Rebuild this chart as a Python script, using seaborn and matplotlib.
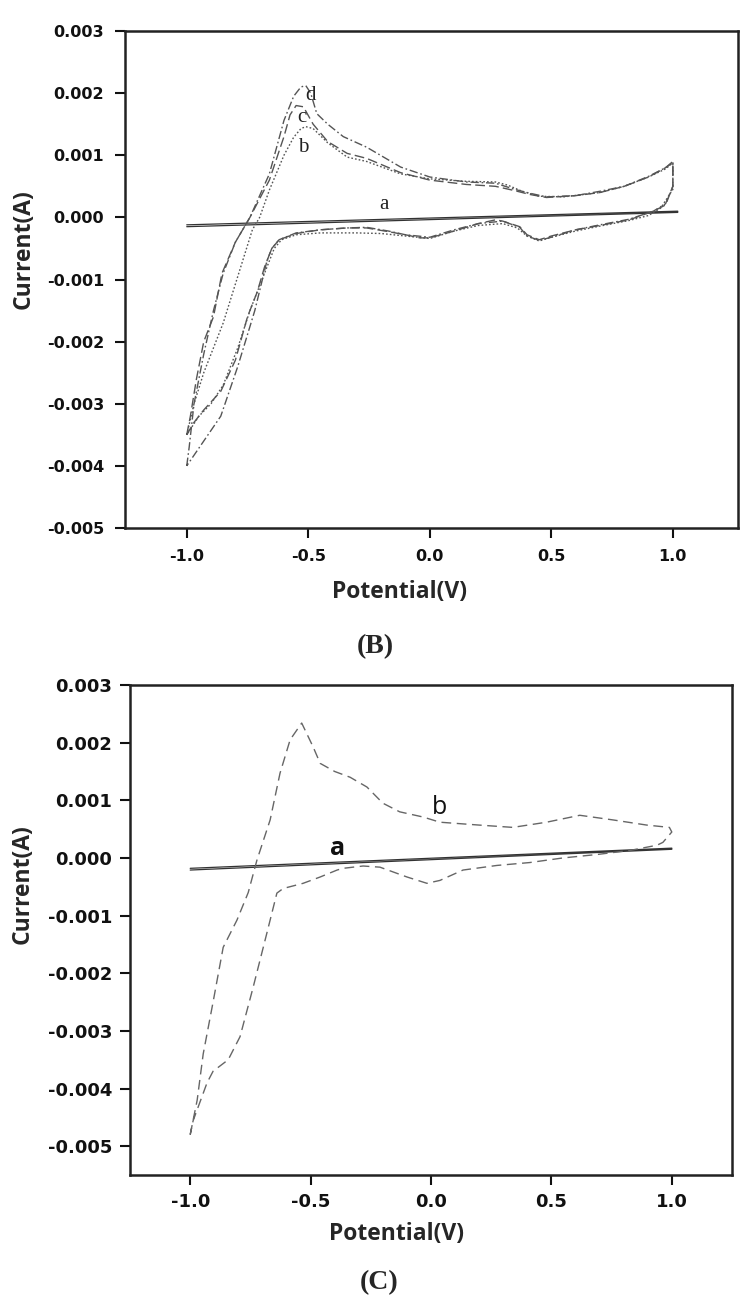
import matplotlib
matplotlib.use('Agg')
import matplotlib.pyplot as plt
import numpy as np
import pandas as pd
import seaborn as sns

# ---- panel B : four cyclic voltammograms ----
b_a_x = [-1.0, 1.02, 1.02, -1.0]
b_a_y = [-0.00012, 0.0001, 0.00008, -0.00015]

b_b_x = [-1.0, -0.97, -0.93, -0.89, -0.85, -0.81, -0.77, -0.73, -0.70, -0.66, -0.60, -0.56, -0.53,
         -0.51, -0.48, -0.42, -0.34, -0.26, -0.12, 0.0, 0.15, 0.27, 0.32, 0.38, 0.45, 0.55, 0.7,
         0.8, 0.9, 0.97, 1.0,
         1.0, 0.95, 0.9, 0.82, 0.7, 0.6, 0.5, 0.45, 0.40, 0.36, 0.3, 0.2, 0.1, 0.0, -0.1, -0.2,
         -0.3, -0.45, -0.55, -0.61, -0.64, -0.67, -0.70, -0.74, -0.79, -0.85, -0.9, -0.95, -1.0]
b_b_y = [-0.0035, -0.003, -0.0025, -0.0021, -0.0017, -0.0012, -0.0007, -0.0002, 0.0, 0.00044,
         0.0010, 0.00129, 0.00143, 0.00146, 0.00143, 0.0012, 0.00097, 0.0009, 0.0007, 0.00062,
         0.00058, 0.00057, 0.00052, 0.00042, 0.00034, 0.00033, 0.0004, 0.0005, 0.00065, 0.00078,
         0.00088,
         0.00045, 0.00015, 0.00003, -0.00005, -0.00014, -0.00022, -0.00032, -0.00038, -0.0003,
         -0.00017, -0.0001, -0.00013, -0.00022, -0.00034, -0.0003, -0.00026, -0.00025, -0.00025,
         -0.00028, -0.00036, -0.0005, -0.0008, -0.0011, -0.0015, -0.0021, -0.0027, -0.003,
         -0.0032, -0.0035]

b_c_x = [-1.0, -0.985, -0.96, -0.93, -0.89, -0.855, -0.80, -0.74, -0.66, -0.6, -0.575, -0.55,
         -0.52, -0.48, -0.42, -0.34, -0.26, -0.12, 0.0, 0.15, 0.27, 0.35, 0.41, 0.48, 0.6, 0.7,
         0.8, 0.9, 0.97, 1.0,
         1.0, 0.97, 0.92, 0.82, 0.7, 0.6, 0.5, 0.45, 0.40, 0.37, 0.3, 0.27, 0.2, 0.1, 0.0, -0.04,
         -0.1, -0.17, -0.26, -0.34, -0.45, -0.55, -0.62, -0.65, -0.68, -0.71, -0.75, -0.80, -0.86,
         -0.93, -0.97, -1.0]
b_c_y = [-0.0035, -0.0032, -0.0026, -0.0020, -0.0016, -0.0009, -0.0004, 0.0, 0.0006, 0.0013,
         0.00165, 0.0018, 0.00178, 0.0015, 0.00122, 0.00103, 0.00095, 0.00072, 0.0006, 0.00053,
         0.0005, 0.00043, 0.00037, 0.00032, 0.00035, 0.0004, 0.0005, 0.00065, 0.0008, 0.00088,
         0.0005, 0.0002, 0.0001, -0.00004, -0.00013, -0.0002, -0.0003, -0.00036, -0.00028,
         -0.00015, -0.00006, -0.00004, -0.0001, -0.00022, -0.00033, -0.00033, -0.00028, -0.00023,
         -0.00017, -0.00017, -0.0002, -0.00026, -0.00036, -0.0005, -0.0008, -0.0012, -0.0016,
         -0.0023, -0.0028, -0.0031, -0.0033, -0.0035]

b_d_x = [-1.0, -0.99, -0.97, -0.93, -0.89, -0.85, -0.80, -0.74, -0.66, -0.6, -0.56, -0.53, -0.51,
         -0.49, -0.465, -0.42, -0.356, -0.26, -0.12, 0.0, 0.15, 0.27, 0.35, 0.41, 0.48, 0.6, 0.7,
         0.8, 0.9, 0.97, 1.0,
         1.0, 0.97, 0.92, 0.82, 0.7, 0.6, 0.5, 0.45, 0.4, 0.37, 0.3, 0.2, 0.1, 0.0, -0.1, -0.17,
         -0.26, -0.34, -0.45, -0.55, -0.62, -0.65, -0.67, -0.72, -0.79, -0.86, -0.93, -1.0]
b_d_y = [-0.004, -0.0037, -0.003, -0.0022, -0.0015, -0.0009, -0.0004, 0.0, 0.0007, 0.00156,
         0.00195, 0.0021, 0.00212, 0.002, 0.00167, 0.0015, 0.0013, 0.00113, 0.00081, 0.00065,
         0.00057, 0.00055, 0.00045, 0.00039, 0.00033, 0.00035, 0.00042, 0.0005, 0.00066, 0.0008,
         0.0009,
         0.0005, 0.00022, 0.0001, -0.00003, -0.00012, -0.0002, -0.00032, -0.00037, -0.0003,
         -0.00016, -0.00006, -0.0001, -0.0002, -0.00032, -0.00028, -0.00022, -0.00016, -0.00017,
         -0.0002, -0.00025, -0.00036, -0.0005, -0.0007, -0.0015, -0.0024, -0.0032, -0.0036, -0.004]

b_labels = ['a', 'b', 'c', 'd']
b_label_x = [-0.19, -0.52, -0.526, -0.49]
b_label_y = [0.0002, 0.00113, 0.0016, 0.00196]

# ---- panel C : two cyclic voltammograms ----
c_a_x = [-1.0, 1.0, 1.0, -1.0]
c_a_y = [-0.00018, 0.00017, 0.00015, -0.00021]

c_b_x = [-1.0, -0.971, -0.946, -0.905, -0.863, -0.806, -0.759, -0.723, -0.668, -0.627, -0.585,
         -0.537, -0.49, -0.46, -0.40, -0.336, -0.266, -0.2, -0.13, -0.033, 0.037, 0.2, 0.34,
         0.48, 0.618, 0.755, 0.896, 0.99,
         1.0, 0.963, 0.938, 0.826, 0.69, 0.548, 0.41, 0.274, 0.133, 0.037, -0.017, -0.10, -0.212,
         -0.282, -0.365, -0.39, -0.46, -0.531, -0.614, -0.64, -0.682, -0.739, -0.793, -0.842,
         -0.905, -0.93, -0.988, -1.0]
c_b_y = [-0.0048, -0.0042, -0.0034, -0.0025, -0.00155, -0.00108, -0.0006, -0.00004, 0.00066,
         0.00147, 0.00205, 0.00234, 0.00193, 0.00164, 0.0015, 0.0014, 0.00123, 0.00095, 0.0008,
         0.00071, 0.00062, 0.00057, 0.00053, 0.00062, 0.00074, 0.00066, 0.00057, 0.00053,
         0.00045, 0.00027, 0.00022, 0.00013, 0.00006, 0.0, -0.00008, -0.00013, -0.00021,
         -0.00039, -0.00044, -0.00033, -0.00016, -0.00014, -0.00018, -0.00021, -0.00033,
         -0.00044, -0.00053, -0.00061, -0.00131, -0.00225, -0.0031, -0.0035, -0.0037, -0.0039,
         -0.00456, -0.0048]

c_labels = ['a', 'b']
c_label_x = [-0.39, 0.037]
c_label_y = [0.00017, 0.00087]

x_ticks = [-1.0, -0.5, 0.0, 0.5, 1.0]
b_y_ticks = [-0.005, -0.004, -0.003, -0.002, -0.001, 0.0, 0.001, 0.002, 0.003]
c_y_ticks = [-0.005, -0.004, -0.003, -0.002, -0.001, 0.0, 0.001, 0.002, 0.003]

sns.set_style('ticks')
plt.rcParams['font.family'] = ['DejaVu Sans']

W, H = 756, 1306
fig = plt.figure(figsize=(W / 100, H / 100), dpi=100)
axB = fig.add_axes([125 / W, 1 - 528 / H, 613 / W, 497 / H])
axC = fig.add_axes([130 / W, 1 - 1175 / H, 602 / W, 490 / H])

grey = '#555555'


def curve(ax, xs, ys, style, color=grey, lw=1.0):
    df = pd.DataFrame({'E': xs, 'I': ys})
    sns.lineplot(data=df, x='E', y='I', sort=False, estimator=None, ax=ax,
                 color=color, linewidth=lw, linestyle=style)


curve(axB, b_a_x, b_a_y, '-', color='#333333', lw=0.9)
curve(axB, b_b_x, b_b_y, (0, (1.2, 1.5)))
curve(axB, b_c_x, b_c_y, (0, (7, 3)))
curve(axB, b_d_x, b_d_y, (0, (6, 2, 1.2, 2)))

curve(axC, c_a_x, c_a_y, '-', color='#333333', lw=0.9)
curve(axC, c_b_x, c_b_y, (0, (7, 4)), color='#666666')

for t, x, y in zip(b_labels, b_label_x, b_label_y):
    axB.text(x, y, t, family='Liberation Serif', fontsize=15, ha='center', va='center',
             color='#222222')
axC.text(c_label_x[0], c_label_y[0], c_labels[0], family='Open Sans', fontsize=18,
         fontweight='bold', ha='center', va='center', color='#111111')
axC.text(c_label_x[1], c_label_y[1], c_labels[1], family='Open Sans', fontsize=18,
         ha='center', va='center', color='#111111')

for ax, yt, ylim, xlim, fs in [(axB, b_y_ticks, (-0.005, 0.003), (-1.254, 1.268), 11.5),
                               (axC, c_y_ticks, (-0.0055, 0.003), (-1.25, 1.25), 13)]:
    ax.set_xlim(*xlim)
    ax.set_ylim(*ylim)
    ax.set_xticks(x_ticks)
    ax.set_xticklabels(['%.1f' % v for v in x_ticks])
    ax.set_yticks(yt)
    ax.set_yticklabels(['%.3f' % v for v in yt])
    ax.tick_params(direction='out', length=7, width=1.5, labelsize=fs, colors='#111111')
    for lab in ax.get_xticklabels() + ax.get_yticklabels():
        lab.set_fontweight('bold')
    for s in ax.spines.values():
        s.set_visible(True)
        s.set_linewidth(1.8)
        s.set_color('#222222')
    ax.set_xlabel('Potential(V)', family='Open Sans', fontweight='bold', fontsize=16.5)
    ax.set_ylabel('Current(A)', family='Open Sans', fontweight='bold', fontsize=16.5)

axB.tick_params(pad=8)
axC.tick_params(pad=6)
axB.xaxis.set_label_coords(0.447, -0.105)
axB.yaxis.set_label_coords(-0.145, 0.561)
axC.xaxis.set_label_coords(0.442, -0.095)
axC.yaxis.set_label_coords(-0.158, 0.594)

fig.text(375 / W, 1 - 647 / H, '(B)', family='Liberation Serif', fontweight='bold',
         fontsize=20, ha='center', va='center')
fig.text(379 / W, 1 - 1283 / H, '(C)', family='Liberation Serif', fontweight='bold',
         fontsize=20, ha='center', va='center')

fig.savefig('out.png', dpi=100)
